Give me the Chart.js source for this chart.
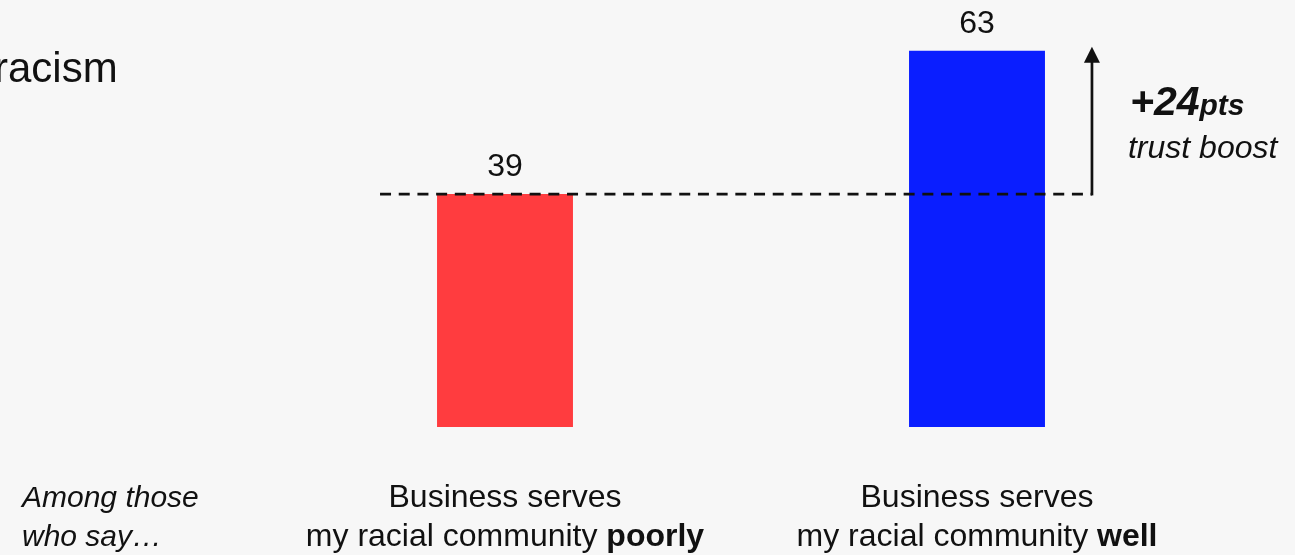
<!DOCTYPE html>
<html>
<head>
<meta charset="utf-8">
<script src="https://cdn.jsdelivr.net/npm/chart.js@4"></script>
<style>
  html, body { margin: 0; padding: 0; background: #f7f7f7; }
  #wrap { width: 1295px; height: 555px; }
</style>
</head>
<body>
<div id="wrap"><canvas id="trustChart" width="1295" height="555"></canvas></div>
<script>
// ------------------------------------------------------------------
// data
// ------------------------------------------------------------------
const categories = ['poorly', 'well'];
const labelLine1 = ['Business serves', 'Business serves'];
const labelLine2 = ['my racial community ', 'my racial community '];
const labelBold = ['poorly', 'well'];
const trustValues = [39, 63];
const barColors = ['#ff3c3f', '#0a1eff'];
const titleText = 'racism';
const introLines = ['Among those', 'who say\u2026'];
const boostMain = '+24';
const boostUnit = 'pts';
const boostNote = 'trust boost';

const FONT = '"Liberation Sans", Arial, sans-serif';
const INK = '#111111';

// gap line at the lower value + arrow up to the higher value
const boostPlugin = {
    id: 'boostPlugin',
    afterDatasetsDraw(chart) {
        const ctx = chart.ctx;
        const y = chart.scales.y;
        const bars = chart.getDatasetMeta(0).data;

        const yLow = y.getPixelForValue(trustValues[0]);
        const yHigh = y.getPixelForValue(trustValues[1]);
        const x0 = bars[0].x - bars[0].width / 2 - 57;
        const xArrow = bars[1].x + bars[1].width / 2 + 47;

        ctx.save();
        // dashed reference line
        ctx.strokeStyle = INK;
        ctx.lineWidth = 2.7;
        ctx.setLineDash([11, 7.7]);
        ctx.beginPath();
        ctx.moveTo(x0, yLow);
        ctx.lineTo(xArrow, yLow);
        ctx.stroke();

        // arrow shaft
        ctx.setLineDash([]);
        ctx.lineWidth = 2.7;
        ctx.beginPath();
        ctx.moveTo(xArrow, yLow + 1.3);
        ctx.lineTo(xArrow, yHigh + 10);
        ctx.stroke();
        // arrow head
        ctx.fillStyle = INK;
        ctx.beginPath();
        ctx.moveTo(xArrow, yHigh - 4);
        ctx.lineTo(xArrow - 8, yHigh + 12);
        ctx.lineTo(xArrow + 8, yHigh + 12);
        ctx.closePath();
        ctx.fill();

        // +24pts / trust boost
        const tx = xArrow + 38;
        ctx.textAlign = 'left';
        ctx.textBaseline = 'alphabetic';
        ctx.font = 'italic bold 41px ' + FONT;
        ctx.fillText(boostMain, tx, 115);
        const w = ctx.measureText(boostMain).width;
        ctx.font = 'italic bold 30px ' + FONT;
        ctx.fillText(boostUnit, tx + w, 115);
        ctx.font = 'italic 32px ' + FONT;
        ctx.fillText(boostNote, tx - 2, 158);

        // value labels
        ctx.font = '32px ' + FONT;
        ctx.textAlign = 'center';
        bars.forEach((bar, i) => {
            ctx.fillText(String(trustValues[i]), bar.x, bar.y - 18);
        });

        // category labels with bold last word
        bars.forEach((bar, i) => {
            ctx.font = '32px ' + FONT;
            ctx.textAlign = 'center';
            ctx.fillText(labelLine1[i], bar.x, 507);
            const wNorm = ctx.measureText(labelLine2[i]).width;
            ctx.font = 'bold 32px ' + FONT;
            const wBold = ctx.measureText(labelBold[i]).width;
            const left = bar.x - (wNorm + wBold) / 2;
            ctx.textAlign = 'left';
            ctx.font = '32px ' + FONT;
            ctx.fillText(labelLine2[i], left, 546);
            ctx.font = 'bold 32px ' + FONT;
            ctx.fillText(labelBold[i], left + wNorm, 546);
        });

        // intro text
        ctx.font = 'italic 30px ' + FONT;
        ctx.textAlign = 'left';
        ctx.fillText(introLines[0], 22, 507);
        ctx.fillText(introLines[1], 22, 546);

        // title (runs off the left edge)
        ctx.font = '42px ' + FONT;
        ctx.fillText(titleText, -6, 82);
        ctx.restore();
    }
};

const bgPlugin = {
    id: 'bgPlugin',
    beforeDraw(chart) {
        const ctx = chart.ctx;
        ctx.save();
        ctx.fillStyle = '#f7f7f7';
        ctx.fillRect(0, 0, chart.width, chart.height);
        ctx.restore();
    }
};

new Chart(document.getElementById('trustChart'), {
    type: 'bar',
    data: {
        labels: categories,
        datasets: [{
            data: trustValues,
            backgroundColor: barColors,
            borderWidth: 0,
            barPercentage: 1,
            categoryPercentage: 0.288
        }]
    },
    options: {
        responsive: false,
        animation: false,
        layout: { padding: { left: 269, right: 82, top: 9, bottom: 128 } },
        plugins: {
            legend: { display: false },
            tooltip: { enabled: false }
        },
        scales: {
            x: { display: false },
            y: { display: false, min: 0, max: 70 }
        }
    },
    plugins: [bgPlugin, boostPlugin]
});
</script>
</body>
</html>
